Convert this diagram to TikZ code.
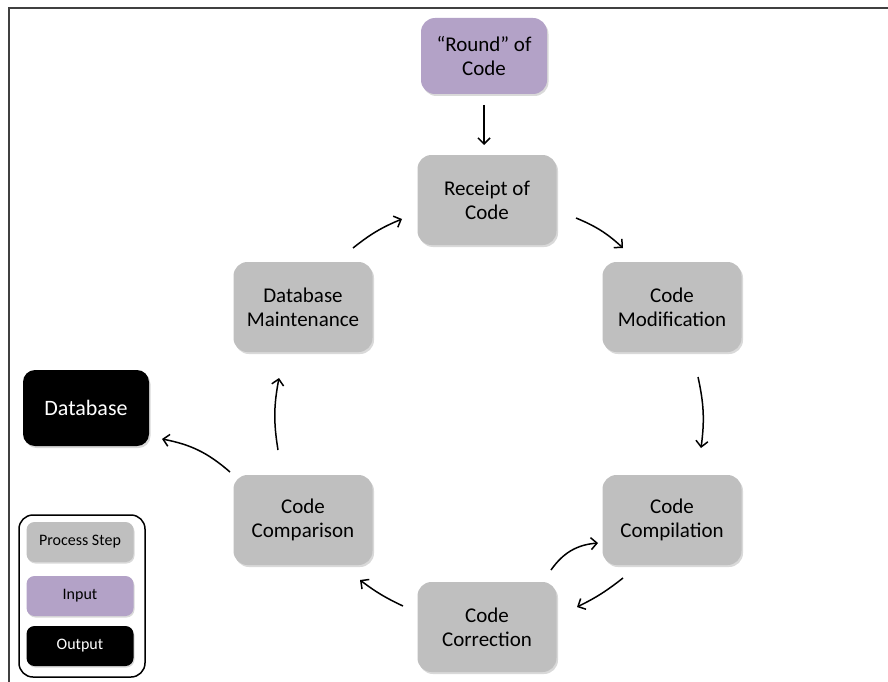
\documentclass[tikz,border=0pt]{standalone}
\usepackage{fontspec}
\setmainfont{Carlito}
\usetikzlibrary{arrows.meta,shadows}
\definecolor{stepgray}{HTML}{BFBFBF}
\definecolor{inpurple}{HTML}{B3A2C7}
\definecolor{framegray}{HTML}{404040}
\begin{document}
\begin{tikzpicture}[x=1pt,y=-1pt,
  box/.style={rounded corners=14pt, align=center, inner sep=0pt,
    font=\fontsize{21}{24}\selectfont,
    drop shadow={shadow xshift=1.5pt,shadow yshift=-2pt,opacity=0.3}},
  stepbox/.style={box, fill=stepgray, minimum width=139pt, minimum height=90pt},
  inbox/.style={box, fill=inpurple, minimum width=126pt, minimum height=76pt},
  outbox/.style={box, fill=black, text=white, minimum width=126pt, minimum height=76pt, rounded corners=12pt},
  legbox/.style={rounded corners=8pt, align=center, inner sep=0pt,
    minimum width=107pt, minimum height=40pt,
    font=\fontsize{16}{19}\selectfont,
    drop shadow={shadow xshift=1pt,shadow yshift=-1.5pt,opacity=0.3}},
  arr/.style={-{Straight Barb[length=6pt,width=12pt]}, line width=1.5pt}
]
\useasboundingbox (0,0) rectangle (888,682);
% frame
\draw[framegray, line width=1.8pt] (9,682) -- (9,8) -- (888,8);

% nodes
\node[inbox] (round) at (484,56) {“Round” of\\Code};
\node[stepbox] (receipt) at (487,200) {Receipt of\\Code};
\node[stepbox] (modif) at (672,307) {Code\\Modification};
\node[stepbox] (compil) at (672,520) {Code\\Compilation};
\node[stepbox] (correct) at (487,627) {Code\\Correction};
\node[stepbox] (compar) at (303,520) {Code\\Comparison};
\node[stepbox] (maint) at (303,307) {Database\\Maintenance};
\node[outbox, font=\fontsize{22}{25}\selectfont] (db) at (86,408) {Database};

% legend
\node[draw=black, line width=1.5pt, rounded corners=14pt, minimum width=126pt, minimum height=162pt] (legend) at (82,596) {};
\node[legbox, fill=stepgray] (lstep) at (80,542) {Process Step};
\node[legbox, fill=inpurple] (lin) at (80,596) {Input};
\node[legbox, fill=black, text=white] (lout) at (80,646) {Output};

% connector end points
\coordinate (r1) at (484,105);  \coordinate (r2) at (484,145);
\coordinate (a1) at (576,218);  \coordinate (a2) at (623,248);
\coordinate (b1) at (698,377);  \coordinate (b2) at (701,448);
\coordinate (c1) at (623,578);  \coordinate (c2) at (577,607);
\coordinate (d1) at (551,570);  \coordinate (d2) at (598,543);
\coordinate (e1) at (403,606);  \coordinate (e2) at (360,580);
\coordinate (f1) at (278,450);  \coordinate (f2) at (279,378);
\coordinate (g1) at (353,248);  \coordinate (g2) at (402,219);
\coordinate (h1) at (230,472);  \coordinate (h2) at (162,439);

\draw[arr] (r1) -- (r2);
\draw[arr] (a1) to[bend left=10] (a2);
\draw[arr] (b1) to[bend left=10] (b2);
\draw[arr] (c1) to[bend left=6] (c2);
\draw[arr] (d1) to[bend left=25] (d2);
\draw[arr] (e1) to[bend left=6] (e2);
\draw[arr] (f1) to[bend left=10] (f2);
\draw[arr] (g1) to[bend left=8] (g2);
\draw[arr] (h1) to[bend right=15] (h2);
\end{tikzpicture}
\end{document}
